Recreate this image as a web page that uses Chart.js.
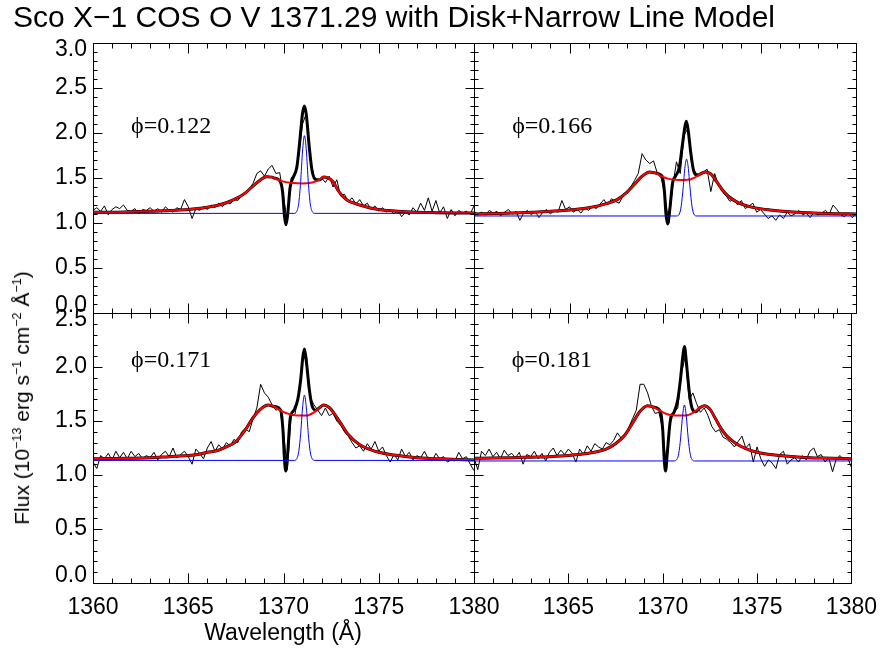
<!DOCTYPE html>
<html>
<head>
    <title>Sco X-1 COS O V 1371.29</title>
    <script src="https://cdn.jsdelivr.net/npm/chart.js"></script>
    <style>
        body { margin: 0; background: #fff; }
        #wrap { position: relative; width: 888px; height: 650px; font-family: 'Liberation Sans', Arial, sans-serif; color: #000; }
        #wrap canvas { position: absolute; left: 0; top: 0; }
        #title { position: absolute; left: 13px; top: 0px; font-size: 30px; white-space: nowrap; }
        #xtitle { position: absolute; left: 283px; top: 619px; transform: translateX(-50%); font-size: 23px; white-space: nowrap; }
        #ytitle { position: absolute; left: 22px; top: 398px; transform: translate(-50%, -50%) rotate(-90deg); font-size: 21px; white-space: nowrap; }
        #ytitle sup { font-size: 0.6em; vertical-align: 0.6em; line-height: 0; }
    </style>
</head>
<body>
<div id="wrap">
    <canvas id="tl" width="888" height="650"></canvas>
    <canvas id="tr" width="888" height="650"></canvas>
    <canvas id="bl" width="888" height="650"></canvas>
    <canvas id="br" width="888" height="650"></canvas>
    <div id="title">Sco X&minus;1 COS O V 1371.29 with Disk+Narrow Line Model</div>
    <div id="xtitle">Wavelength (&Aring;)</div>
    <div id="ytitle">Flux (10<sup>&minus;13</sup> erg s<sup>&minus;1</sup> cm<sup>&minus;2</sup> &Aring;<sup>&minus;1</sup>)</div>
</div>
<script>
    // observed spectra, one value every 0.2 A starting at 1360
    const wlStart = 1360, wlStep = 0.2;
    const obs122 = [1.14,1.17,1.13,1.19,1.09,1.15,1.18,1.16,1.20,1.14,
        1.13,1.16,1.10,1.15,1.14,1.17,1.13,1.16,1.12,1.18,
        1.14,1.12,1.17,1.15,1.26,1.18,1.05,1.16,1.14,1.18,
        1.15,1.20,1.17,1.22,1.18,1.24,1.21,1.26,1.25,1.30,
        1.34,1.38,1.44,1.55,1.58,1.52,1.60,1.64,1.55,1.56,
        1.30,1.00,1.50,1.55,1.75,2.10,2.22,1.70,1.52,1.47,
        1.50,1.45,1.52,1.40,1.48,1.30,1.32,1.24,1.28,1.21,
        1.26,1.19,1.22,1.15,1.19,1.13,1.17,1.12,1.15,1.10,
        1.14,1.07,1.12,1.09,1.17,1.12,1.22,1.14,1.28,1.13,
        1.25,1.11,1.18,1.05,1.15,1.08,1.14,1.11,1.13,1.10,
        1.19];
    const obs166 = [1.13,1.10,1.12,1.09,1.14,1.11,1.13,1.08,1.12,1.15,
        1.10,1.13,1.03,1.11,1.14,1.09,1.13,1.06,1.12,1.15,
        1.10,1.14,1.12,1.25,1.15,1.18,1.12,1.15,1.11,1.17,
        1.14,1.18,1.16,1.21,1.26,1.20,1.27,1.24,1.22,1.30,
        1.35,1.40,1.47,1.55,1.77,1.70,1.66,1.69,1.55,1.50,
        1.30,1.00,1.40,1.68,1.55,1.98,2.05,1.65,1.56,1.53,
        1.56,1.60,1.35,1.55,1.42,1.35,1.30,1.24,1.27,1.20,
        1.25,1.16,1.19,1.22,1.12,1.15,1.10,1.05,1.08,1.03,
        1.09,1.05,1.12,1.08,1.10,1.14,1.09,1.11,1.06,1.12,
        1.09,1.11,1.14,1.10,1.20,1.15,1.09,1.07,1.11,1.06,
        1.10];
    const obs171 = [1.12,1.06,1.18,1.15,1.20,1.14,1.22,1.16,1.21,1.15,
        1.22,1.17,1.20,1.15,1.18,1.16,1.21,1.14,1.19,1.22,
        1.17,1.25,1.16,1.19,1.22,1.17,1.10,1.24,1.20,1.15,
        1.25,1.31,1.22,1.28,1.24,1.30,1.27,1.33,1.30,1.40,
        1.43,1.40,1.52,1.62,1.84,1.76,1.72,1.65,1.60,1.62,
        1.40,1.05,1.55,1.56,1.75,2.05,2.12,1.72,1.65,1.60,
        1.55,1.62,1.55,1.57,1.50,1.46,1.40,1.36,1.30,1.25,
        1.27,1.22,1.29,1.24,1.31,1.22,1.26,1.18,1.12,1.19,
        1.14,1.24,1.17,1.21,1.14,1.18,1.16,1.22,1.15,1.13,
        1.20,1.15,1.17,1.12,1.14,1.13,1.21,1.15,1.17,1.10,
        1.04];
    const obs181 = [1.16,1.05,1.22,1.18,1.24,1.17,1.21,1.15,1.23,1.18,
        1.20,1.16,1.21,1.10,1.19,1.17,1.22,1.15,1.20,1.13,
        1.21,1.25,1.18,1.23,1.19,1.24,1.20,1.12,1.24,1.19,
        1.27,1.22,1.29,1.26,1.24,1.30,1.28,1.32,1.39,1.34,
        1.38,1.44,1.52,1.60,1.84,1.84,1.76,1.64,1.57,1.58,
        1.42,1.05,1.56,1.58,1.62,1.95,2.10,1.70,1.76,1.66,
        1.58,1.62,1.55,1.45,1.40,1.42,1.35,1.33,1.30,1.26,
        1.31,1.36,1.25,1.29,1.12,1.26,1.15,1.08,1.14,1.11,
        1.06,1.19,1.22,1.10,1.14,1.16,1.12,1.18,1.14,1.22,
        1.25,1.17,1.19,1.12,1.16,1.03,1.15,1.18,1.14,1.16,
        1.07];

    // disk model (red)
    const disk122W = [1360,1361,1362,1363,1364,1365,1365.5,1366,1366.5,1367,1367.5,1368,1368.5,1368.8,1369.1,1369.4,1369.7,1370,1370.5,1371,1371.5,1371.8,1372.1,1372.3,1372.6,1372.9,1373.3,1373.7,1374,1374.5,1375,1376,1377,1378,1379,1380];
    const disk122F = [1.12,1.12,1.125,1.13,1.14,1.15,1.16,1.175,1.195,1.225,1.27,1.335,1.43,1.48,1.515,1.51,1.48,1.46,1.445,1.44,1.45,1.47,1.51,1.505,1.46,1.35,1.26,1.22,1.20,1.17,1.15,1.13,1.12,1.115,1.112,1.11];
    const disk166W = [1360,1361,1362,1363,1364,1365,1365.5,1366,1366.5,1367,1367.5,1368,1368.4,1368.8,1369.2,1369.5,1369.8,1370.2,1370.7,1371.2,1371.6,1371.9,1372.1,1372.4,1372.7,1373,1373.3,1373.8,1374.3,1374.8,1375.5,1376.5,1377.5,1378.5,1380];
    const disk166F = [1.10,1.105,1.11,1.12,1.13,1.145,1.155,1.17,1.19,1.22,1.26,1.34,1.43,1.52,1.567,1.555,1.52,1.49,1.478,1.48,1.51,1.55,1.567,1.545,1.46,1.37,1.30,1.23,1.19,1.165,1.145,1.125,1.113,1.105,1.10];
    const disk171W = [1360,1361,1362,1363,1364,1365,1365.5,1366,1366.5,1367,1367.5,1368,1368.4,1368.8,1369.2,1369.5,1369.8,1370.2,1370.7,1371.2,1371.6,1371.9,1372.1,1372.4,1372.7,1373,1373.4,1374,1374.5,1375,1375.8,1376.5,1377.5,1378.5,1380];
    const disk171F = [1.15,1.152,1.155,1.16,1.17,1.18,1.19,1.21,1.225,1.26,1.31,1.42,1.53,1.61,1.648,1.635,1.60,1.57,1.55,1.55,1.58,1.625,1.648,1.625,1.56,1.48,1.375,1.28,1.24,1.21,1.185,1.17,1.155,1.147,1.14];
    const disk181W = [1360,1361,1362,1363,1364,1365,1365.5,1366,1366.5,1367,1367.5,1368,1368.4,1368.8,1369.2,1369.5,1369.8,1370.2,1370.7,1371.2,1371.6,1371.9,1372.2,1372.5,1372.8,1373.1,1373.4,1373.9,1374.4,1375,1375.7,1376.5,1377.5,1378.5,1380];
    const disk181F = [1.155,1.157,1.16,1.165,1.17,1.18,1.19,1.20,1.215,1.24,1.29,1.37,1.48,1.59,1.642,1.63,1.60,1.565,1.55,1.55,1.575,1.615,1.642,1.61,1.52,1.43,1.36,1.29,1.245,1.21,1.19,1.175,1.163,1.157,1.15];

    // narrow line (blue)
    const narrow122W = [1360,1370.55,1370.7,1370.8,1370.9,1371.0,1371.1,1371.2,1371.3,1371.4,1371.5,1371.65,1380];
    const narrow122F = [1.107,1.107,1.13,1.22,1.46,1.80,1.97,1.80,1.46,1.22,1.13,1.107,1.107];
    const narrow166W = [1360,1370.6,1370.75,1370.85,1370.95,1371.05,1371.13,1371.21,1371.31,1371.41,1371.51,1371.66,1380];
    const narrow166F = [1.078,1.078,1.10,1.19,1.39,1.63,1.71,1.63,1.39,1.19,1.10,1.078,1.078];
    const narrow171W = [1360,1370.55,1370.7,1370.8,1370.9,1371.0,1371.1,1371.2,1371.3,1371.4,1371.5,1371.65,1380];
    const narrow171F = [1.135,1.135,1.152,1.217,1.383,1.62,1.74,1.62,1.383,1.217,1.152,1.135,1.135];
    const narrow181W = [1360,1370.6,1370.75,1370.85,1370.95,1371.05,1371.15,1371.25,1371.35,1371.45,1371.55,1371.7,1380];
    const narrow181F = [1.13,1.13,1.145,1.20,1.342,1.544,1.648,1.544,1.342,1.20,1.145,1.13,1.13];

    // total model (thick black) around the line core; outside it equals the disk
    const core122W = [1369.5,1369.8,1369.95,1370.05,1370.13,1370.22,1370.35,1370.5,1370.7,1370.85,1371.0,1371.1,1371.2,1371.35,1371.5,1371.7,1371.9];
    const core122F = [1.50,1.47,1.35,1.08,0.98,1.10,1.40,1.50,1.62,1.90,2.22,2.30,2.20,1.85,1.58,1.48,1.48];
    const core166W = [1369.5,1369.85,1369.97,1370.05,1370.14,1370.25,1370.4,1370.55,1370.75,1370.9,1371.05,1371.12,1371.22,1371.35,1371.5,1371.7,1371.9];
    const core166F = [1.555,1.52,1.35,1.10,0.99,1.15,1.45,1.52,1.62,1.85,2.08,2.13,2.02,1.78,1.58,1.53,1.55];
    const core171W = [1369.5,1369.85,1369.97,1370.05,1370.12,1370.22,1370.35,1370.55,1370.75,1370.9,1371.02,1371.1,1371.2,1371.35,1371.5,1371.7,1371.9];
    const core171F = [1.635,1.60,1.42,1.15,1.037,1.20,1.52,1.60,1.70,1.88,2.10,2.167,2.05,1.80,1.64,1.60,1.625];
    const core181W = [1369.5,1369.87,1370.0,1370.08,1370.15,1370.25,1370.4,1370.6,1370.8,1370.95,1371.08,1371.15,1371.25,1371.4,1371.55,1371.75,1371.95];
    const core181F = [1.63,1.59,1.42,1.15,1.037,1.22,1.50,1.58,1.70,1.90,2.12,2.19,2.05,1.78,1.62,1.585,1.62];

    const xTicks = [1360, 1365, 1370, 1375, 1380];
    const tickFont = { family: "'Liberation Sans', Arial, sans-serif", size: 23, lineHeight: 0.6 };

    const pts = (w, f) => w.map((x, i) => ({ x: x, y: f[i] }));
    const obsPts = f => f.map((y, i) => ({ x: wlStart + i * wlStep, y: y }));
    function totalPts(dw, df, cw, cf) {
        const lo = cw[0], hi = cw[cw.length - 1];
        const out = pts(dw, df).filter(p => p.x < lo || p.x > hi).concat(pts(cw, cf));
        return out.sort((a, b) => a.x - b.x);
    }

    // frame + inward ticks on all four sides
    const frameTicks = {
        id: 'frameTicks',
        afterDatasetsDraw(chart) {
            const { ctx, chartArea: a, scales: { x, y } } = chart;
            const l = Math.round(a.left) + 0.5, r = Math.round(a.right) + 0.5;
            const t = Math.round(a.top) + 0.5, b = Math.round(a.bottom) + 0.5;
            ctx.save();
            ctx.strokeStyle = '#000';
            ctx.lineWidth = 1;
            ctx.beginPath();
            ctx.rect(l, t, r - l, b - t);
            for (let v = 1360; v <= 1380; v++) {
                const px = Math.round(x.getPixelForValue(v)) + 0.5;
                const len = v % 5 === 0 ? 10 : 5;
                ctx.moveTo(px, b); ctx.lineTo(px, b - len);
                ctx.moveTo(px, t); ctx.lineTo(px, t + len);
            }
            for (let k = 0; k <= Math.round(y.max * 10); k++) {
                const py = Math.round(y.getPixelForValue(k / 10)) + 0.5;
                const len = k % 5 === 0 ? 9 : 4;
                ctx.moveTo(l, py); ctx.lineTo(l + len, py);
                ctx.moveTo(r, py); ctx.lineTo(r - len, py);
            }
            ctx.stroke();
            ctx.restore();
        }
    };

    const phaseLabel = {
        id: 'phaseLabel',
        afterDraw(chart, args, opts) {
            const { ctx, scales: { x, y } } = chart;
            ctx.save();
            ctx.font = "24px 'Liberation Serif', 'DejaVu Serif', serif";
            ctx.fillStyle = '#000';
            ctx.textAlign = 'left';
            ctx.textBaseline = 'alphabetic';
            ctx.fillText(opts.text, x.getPixelForValue(1362), y.getPixelForValue(2.0));
            ctx.restore();
        }
    };

    // end labels sit a little inside the frame, as in the original plot
    function yLabel(v, yMax) {
        const s = v.toFixed(1);
        if (v === 0) return [s, ''];
        if (v === yMax) return ['', s];
        return s;
    }

    function makePanel(id, p) {
        new Chart(document.getElementById(id), {
            type: 'line',
            data: {
                datasets: [
                    { data: pts(p.nw, p.nf), borderColor: '#0000ff', borderWidth: 1, cubicInterpolationMode: 'monotone' },
                    { data: pts(p.dw, p.df), borderColor: '#ff0000', borderWidth: 2, cubicInterpolationMode: 'monotone' },
                    { data: totalPts(p.dw, p.df, p.cw, p.cf), borderColor: '#000', borderWidth: 3, cubicInterpolationMode: 'monotone' },
                    { data: obsPts(p.obs), borderColor: '#000', borderWidth: 1 }
                ]
            },
            options: {
                responsive: false,
                animation: false,
                layout: { padding: p.pad },
                elements: { point: { radius: 0 }, line: { tension: 0 } },
                plugins: {
                    legend: { display: false },
                    tooltip: { enabled: false },
                    phaseLabel: { text: p.phase }
                },
                scales: {
                    x: {
                        type: 'linear', min: 1360, max: 1380,
                        display: p.showX,
                        grid: { display: false, drawTicks: false },
                        border: { display: false },
                        afterBuildTicks: s => { s.ticks = xTicks.map(v => ({ value: v })); },
                        afterFit: s => { if (p.showX) s.height = 67; },
                        ticks: {
                            color: '#000', font: { family: tickFont.family, size: 23 }, padding: 11, maxRotation: 0, autoSkip: false,
                            callback: v => (p.skipFirst && v === 1360) ? '' : String(v)
                        }
                    },
                    y: {
                        type: 'linear', min: 0, max: p.yMax,
                        display: p.showY,
                        grid: { display: false, drawTicks: false },
                        border: { display: false },
                        afterFit: s => { if (p.showY) s.width = 93; },
                        ticks: { color: '#000', font: tickFont, padding: 6, stepSize: 0.5, autoSkip: false, callback: v => yLabel(v, p.yMax) }
                    }
                }
            },
            plugins: [frameTicks, phaseLabel]
        });
    }

    makePanel('tl', { obs: obs122, dw: disk122W, df: disk122F, nw: narrow122W, nf: narrow122F, cw: core122W, cf: core122F,
        phase: '\u03d5=0.122', yMax: 3, showX: false, showY: true, pad: { left: 0, top: 43, right: 414, bottom: 337 } });
    makePanel('tr', { obs: obs166, dw: disk166W, df: disk166F, nw: narrow166W, nf: narrow166F, cw: core166W, cf: core166F,
        phase: '\u03d5=0.166', yMax: 3, showX: false, showY: false, pad: { left: 474, top: 43, right: 32, bottom: 337 } });
    makePanel('bl', { obs: obs171, dw: disk171W, df: disk171F, nw: narrow171W, nf: narrow171F, cw: core171W, cf: core171F,
        phase: '\u03d5=0.171', yMax: 2.5, showX: true, showY: true, pad: { left: 0, top: 313, right: 414, bottom: 0 } });
    makePanel('br', { obs: obs181, dw: disk181W, df: disk181F, nw: narrow181W, nf: narrow181F, cw: core181W, cf: core181F,
        phase: '\u03d5=0.181', yMax: 2.5, showX: true, showY: false, skipFirst: true, pad: { left: 474, top: 313, right: 32, bottom: 0 } });
</script>
</body>
</html>
